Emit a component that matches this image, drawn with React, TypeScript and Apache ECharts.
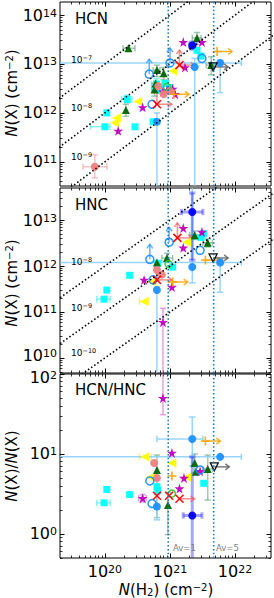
import React, { useEffect, useRef } from 'react';
import * as echarts from 'echarts';

// ---------- axis ranges (real units) ----------
const nh2Range = [2.04e19, 3.57e22];
const hcnRange = [3.2e10, 1.85e14];
const hncRange = [4.7e9, 5.0e13];
const ratioRange = [0.5, 100];

const panelNames = ['HCN', 'HNC', 'HCN/HNC'];
const hcnAbundances = [1e-7, 1e-8, 1e-9];
const hncAbundances = [1e-8, 1e-9, 1e-10];
const hcnAbundanceLabels = ['−7', '−8', '−9'];
const hncAbundanceLabels = ['−8', '−9', '−10'];
const avNH2 = [9.4e20, 4.7e21];
const avLabels = ['Av=1', 'Av=5'];
const xTickExps = [20, 21, 22];
const hcnTickExps = [11, 12, 13, 14];
const hncTickExps = [11, 12, 13];
const hncEdgeTickExps = [10];
const ratioTickExps = [0, 1];
const ratioEdgeTickExps = [2];

// ---------- data: [N(H2), value, N(H2) lo, N(H2) hi, value lo, value hi, limit flags] ----------
type Row = (number | string | null)[];

const cyanHCN: Row[] = [
  [1.0e20, 5.2e11, 6.0e19, 1.2e20, null, null],
  [1.07e20, 1.0e12],
  [2.2e20, 1.9e12, 1.8e20, 2.6e20, 1.6e12, 2.3e12],
  [2.9e20, 5.2e11],
  [5.5e20, 6.6e11],
  [6.2e20, 3.9e12, 5.2e20, 7.5e20, 3.0e12, 5.0e12],
  [5.8e20, 3.2e12],
  [8.5e20, 4.0e12],
  [7.2e20, 2.9e12],
  [1.0e21, 3.3e12],
  [2.6e21, 1.9e13],
  [3.0e21, 1.45e13],
];
const cyanHNC: Row[] = [
  [9.7e19, 1.9e11, 7.5e19, 1.2e20, null, null],
  [1.07e20, 3.0e11],
  [2.4e20, 6.3e11],
  [6.5e20, 1.15e12],
  [1.1e21, 9.5e11],
  [3.3e21, 5.0e12],
  [3.0e21, 4.2e12],
];
const cyanRatio: Row[] = [
  [9.7e19, 2.45, 7.5e19, 1.2e20, null, null],
  [1.07e20, 3.6],
  [2.4e20, 3.1],
  [6.3e20, 3.9],
  [6.5e20, 3.5],
  [3.3e21, 4.3],
];

const yellowHCN: Row[] = [
  [1.5e20, 7.9e11],
  [1.4e20, 6.3e11],
  [3.2e20, 1.7e12],
  [1.1e21, 7.2e12],
];
const yellowHNC: Row[] = [
  [4.0e20, 1.7e11, 3.4e20, 4.6e20, null, null],
  [1.8e21, 3.3e12],
  [5.3e20, 4.5e11],
];
const yellowRatio: Row[] = [
  [4.1e20, 9.2, 3.4e20, 5.2e20, null, null],
  [1.07e21, 7.7],
  [5.0e20, 5.1],
  [1.8e21, 5.1],
];

const greenHCN: Row[] = [
  [2.3e20, 2.1e13, 1.9e20, 2.9e20, null, null],
  [2.1e20, 1.15e12, null, null, 8.5e11, 1.5e12],
  [6.3e20, 7.5e12, 5.5e20, 7.0e20, 5.5e12, 9.5e12],
  [8.0e20, 6.5e12, null, null, 4.8e12, 8.5e12],
  [6.0e20, 4.0e12],
  [5.8e20, 3.0e12, null, null, 2.2e12, 4.0e12],
  [2.6e21, 3.4e13, 2.2e21, 3.0e21, 2.5e13, 4.4e13],
  [4.3e21, 9.5e12, 3.6e21, 5.0e21, 6.0e12, 1.4e13],
];
const greenHNC: Row[] = [
  [9.0e20, 1.5e12, 7.5e20, 1.1e21, 1.2e12, 1.9e12],
  [6.3e20, 1.2e12],
  [2.4e21, 4.7e12, 2.0e21, 2.9e21, 3.8e12, 5.8e12],
  [3.8e21, 3.2e12, 3.2e21, 4.5e21, 2.6e12, 3.9e12],
];
const greenRatio: Row[] = [
  [6.3e20, 6.3, null, null, 1.6, 9.7],
  [2.4e21, 7.7, null, null, 5.8, 10],
  [2.5e21, 6.0],
  [3.8e21, 6.5, 3.2e21, 4.5e21, 2.65, 9.7],
  [9.3e20, 2.3, null, null, 0.98, 3.3],
];

const magentaHCN: Row[] = [
  [1.6e20, 4.3e11],
  [3.8e20, 1.3e12],
  [7.8e20, 2.7e12],
  [9.0e20, 2.9e12],
  [1.1e21, 3.1e12],
  [1.2e21, 2.4e12],
  [1.6e21, 2.8e13],
  [3.1e21, 2.8e13],
  [1.7e21, 8.5e12],
];
const magentaHNC: Row[] = [
  [4.0e20, 5.0e11],
  [7.8e20, 6.0e10, null, null, 1e8, 1.2e11],
  [1.07e21, 3.5e11],
  [1.6e21, 6.7e12],
  [3.1e21, 5.5e12],
  [1.6e21, 2.5e12],
];
const magentaRatio: Row[] = [
  [7.8e20, 50, null, null, 31, 300],
  [1.07e21, 10.3],
  [1.64e21, 5.0],
  [1.4e21, 3.7],
  [3.8e20, 2.8, 3.3e20, 4.3e20, 2.5, 3.1],
  [2.9e21, 6.1],
];

const dodgerHCN: Row[] = [
  [6.3e20, 6.6e11, null, null, 1e8, 1.0e12],
  [2.4e21, 8.7e12, null, null, 1e8, 1.3e13],
  [5.9e21, 1.05e13, 1e18, 1.25e22, 2.6e12, 1.2e13],
];
const dodgerHNC: Row[] = [
  [6.3e20, 3.0e11, null, null, 1e8, 3.5e11],
  [2.2e21, 9.5e11, null, null, 4.3e11, 6e13],
  [5.9e21, 1.2e12, 1e18, 1.25e22, 2.7e11, 1.4e12],
];
const dodgerRatio: Row[] = [
  [2.2e21, 15.4, 6.3e20, 3.2e21, 7.1, 29],
  [5.9e21, 9.2, 1e18, 1.25e22, null, null],
  [6.3e20, 2.2, null, null, 1.5, 3.1],
];

const blueHCN: Row[] = [[2.2e21, 2.4e13, 2.0e21, 2.5e21, 2.0e13, 2.8e13]];
const blueHNC: Row[] = [[2.2e21, 1.5e13, 1.5e21, 3.2e21, 1.35e12, 3.9e13]];
const blueRatio: Row[] = [[2.2e21, 1.7, 1.6e21, 3.1e21, 0.1, 9.2]];

const salmonHCN: Row[] = [
  [7.0e19, 7.9e10, 4.6e19, 1.07e20, 4.7e10, 1.4e11],
  [6.6e20, 3.5e12],
  [8.0e20, 2.4e12],
  [1.0e21, 2.8e12],
];
const salmonHNC: Row[] = [
  [6.3e20, 8.2e11],
  [7.5e20, 6.5e11],
];
const salmonRatio: Row[] = [
  [5.7e20, 7.7],
  [6.3e20, 5.0],
];

const limeHCN: Row[] = [[9.0e20, 3.4e12]];
const limeHNC: Row[] = [[9.5e20, 1.1e12]];
const limeRatio: Row[] = [[1.07e21, 3.2]];

const openHCN: Row[] = [
  [4.8e20, 6.2e12, null, null, null, null, 'u'],
  [5.3e20, 1.5e12],
  [1.0e21, 1.05e13, null, null, null, null, 'u'],
  [3.1e21, 1.3e13],
];
const openHNC: Row[] = [
  [4.9e20, 1.4e12, null, null, null, null, 'u'],
  [9.7e20, 3.3e12, null, null, null, null, 'u'],
  [5.5e20, 5.0e11],
  [2.9e21, 2.2e12],
];
const openRatio: Row[] = [
  [4.9e20, 4.6],
  [5.3e20, 2.4],
  [2.9e21, 6.3],
];

const redHCN: Row[] = [
  [6.3e20, 1.5e12, null, null, null, null, 'ur'],
  [1.4e21, 9.5e12, null, null, null, null, 'ur'],
];
const redHNC: Row[] = [
  [6.3e20, 5.0e11, null, null, null, null, 'ur'],
  [1.3e21, 4.1e12, null, null, null, null, 'ur'],
];
const redRatio: Row[] = [
  [6.3e20, 3.0],
  [9.7e20, 3.0],
  [1.4e21, 2.75, null, null, null, null, 'r'],
];

const orangeHCN: Row[] = [
  [5.3e21, 1.8e13, null, null, null, null, 'r'],
  [1.15e21, 2.4e12, null, null, null, null, 'r'],
];
const orangeHNC: Row[] = [
  [1.1e21, 4.5e11, null, null, null, null, 'r'],
  [3.5e21, 1.35e12, null, null, null, null, 'r'],
];
const orangeRatio: Row[] = [
  [3.5e21, 14.5, null, null, null, null, 'r'],
  [1.07e21, 5.3],
];

const blackHCN: Row[] = [[4.6e21, 8.7e12, null, null, null, null, 'r']];
const blackHNC: Row[] = [[4.6e21, 1.5e12, null, null, null, null, 'r']];
const blackRatio: Row[] = [[4.8e21, 6.9, null, null, null, null, 'r']];

// ---------- styles ----------
const FONT = 'DejaVu Sans';
const STAR = 'path://M50,0L61.2,34.5L97.6,34.5L68.2,55.9L79.4,90.5L50,69.1L20.6,90.5L31.8,55.9L2.4,34.5L38.8,34.5Z';
const XMARK = 'path://M0,0L10,10M10,0L0,10';
const PLUS = 'path://M5,0L5,10M0,5L10,5';

const groups = [
  { rows: [cyanHCN, cyanHNC, cyanRatio], symbol: 'rect', size: 7, fill: '#00FFFF', border: 'transparent', bw: 0, rot: 0, err: 'rgba(0,225,225,0.45)', ew: 1.5, arrow: '#00cccc' },
  { rows: [yellowHCN, yellowHNC, yellowRatio], symbol: 'triangle', size: 9, fill: '#FFFF00', border: 'transparent', bw: 0, rot: 90, err: 'rgba(225,225,0,0.5)', ew: 1.5, arrow: '#dddd00' },
  { rows: [greenHCN, greenHNC, greenRatio], symbol: 'triangle', size: 8, fill: '#006400', border: 'transparent', bw: 0, rot: 0, err: 'rgba(46,139,87,0.45)', ew: 1.5, arrow: '#2e8b57' },
  { rows: [magentaHCN, magentaHNC, magentaRatio], symbol: STAR, size: 10, fill: '#BF00BF', border: 'transparent', bw: 0, rot: 0, err: 'rgba(218,112,214,0.65)', ew: 1.5, arrow: '#da70d6' },
  { rows: [dodgerHCN, dodgerHNC, dodgerRatio], symbol: 'circle', size: 8, fill: '#1E90FF', border: 'transparent', bw: 0, rot: 0, err: 'rgba(135,206,250,0.85)', ew: 1.5, arrow: '#87cefa' },
  { rows: [blueHCN, blueHNC, blueRatio], symbol: 'circle', size: 8, fill: '#0000FF', border: 'transparent', bw: 0, rot: 0, err: 'rgba(0,0,255,0.35)', ew: 3, arrow: '#0000ff' },
  { rows: [salmonHCN, salmonHNC, salmonRatio], symbol: 'circle', size: 8, fill: '#F08080', border: 'transparent', bw: 0, rot: 0, err: 'rgba(240,128,128,0.45)', ew: 1.5, arrow: '#f08080' },
  { rows: [limeHCN, limeHNC, limeRatio], symbol: 'circle', size: 7, fill: 'transparent', border: '#32CD32', bw: 1.5, rot: 0, err: 'rgba(50,205,50,0.45)', ew: 1.5, arrow: '#32cd32' },
  { rows: [openHCN, openHNC, openRatio], symbol: 'circle', size: 8, fill: 'transparent', border: '#1E90FF', bw: 1.5, rot: 0, err: 'rgba(30,144,255,0.5)', ew: 1.5, arrow: 'rgba(30,144,255,0.7)' },
  { rows: [redHCN, redHNC, redRatio], symbol: XMARK, size: 8, fill: 'transparent', border: '#FF0000', bw: 1.6, rot: 0, err: 'rgba(255,70,70,0.5)', ew: 1.5, arrow: 'rgba(255,80,80,0.65)' },
  { rows: [orangeHCN, orangeHNC, orangeRatio], symbol: PLUS, size: 9, fill: 'transparent', border: '#FFA500', bw: 1.6, rot: 0, err: 'rgba(255,165,0,0.5)', ew: 1.5, arrow: 'rgba(255,165,0,0.85)' },
  { rows: [blackHCN, blackHNC, blackRatio], symbol: 'triangle', size: 8, fill: 'transparent', border: '#000000', bw: 1.3, rot: 180, err: 'rgba(0,0,0,0.4)', ew: 1.5, arrow: 'rgba(100,100,100,0.85)' },
];

const gridDefs = [
  { top: 2, height: 184 },
  { top: 188, height: 185 },
  { top: 374, height: 184 },
];
const GRID_LEFT = 60;
const GRID_WIDTH = 211;

const lg = Math.log10;

function majorsIn(lo: number, hi: number) {
  const out: number[] = [];
  for (let d = Math.ceil(lo - 1e-9); d <= Math.floor(hi + 1e-9); d++) out.push(d);
  return out;
}
function minorsIn(lo: number, hi: number) {
  const out: number[] = [];
  for (let d = Math.floor(lo) - 1; d <= Math.ceil(hi); d++) {
    for (let k = 2; k <= 9; k++) {
      const v = d + Math.log10(k);
      if (v > lo && v < hi) out.push(v);
    }
  }
  return out;
}

const tickRich = {
  b: { fontSize: 16, fontFamily: FONT, color: '#000', lineHeight: 15 },
  s: { fontSize: 11, fontFamily: FONT, color: '#000', lineHeight: 5, verticalAlign: 'top' },
};
const tickFmt = (v: number) => `{b|10}{s|${Math.round(v)}}`;

function makeAxis(
  dim: 'x' | 'y', g: number, lo: number, hi: number, position: string, major: boolean,
  labels: number[] | null, labelPadding?: number[],
) {
  const ax: any = {
    type: 'value',
    gridIndex: g,
    min: lo,
    max: hi,
    position,
    axisLine: { show: false, onZero: false },
    splitLine: { show: false },
    axisTick: {
      show: true,
      inside: true,
      length: major ? 4.5 : 2.5,
      customValues: major ? majorsIn(lo, hi) : minorsIn(lo, hi),
      lineStyle: { color: '#000', width: major ? 1 : 0.8 },
    },
    axisLabel: labels
      ? {
          show: true, customValues: labels, formatter: tickFmt, rich: tickRich,
          margin: dim === 'x' ? 6 : 3, padding: labelPadding || 0,
        }
      : { show: false },
  };
  return ax;
}

function errRender(color: string, width: number) {
  return (params: any, api: any) => {
    const x = api.value(0), y = api.value(1);
    const xl = api.value(2), xh = api.value(3), yl = api.value(4), yh = api.value(5);
    const st = { stroke: color, lineWidth: width, fill: 'none' };
    const cap = 3.2;
    const ch: any[] = [];
    const seg = (x1: number, y1: number, x2: number, y2: number) =>
      ch.push({ type: 'line', shape: { x1, y1, x2, y2 }, style: st });
    if (xh - xl > 1e-6) {
      const a = api.coord([xl, y]);
      const b = api.coord([xh, y]);
      seg(a[0], a[1], b[0], b[1]);
      seg(a[0], a[1] - cap, a[0], a[1] + cap);
      seg(b[0], b[1] - cap, b[0], b[1] + cap);
    }
    if (yh - yl > 1e-6) {
      const a = api.coord([x, yl]);
      const b = api.coord([x, yh]);
      seg(a[0], a[1], b[0], b[1]);
      seg(a[0] - cap, a[1], a[0] + cap, a[1]);
      seg(b[0] - cap, b[1], b[0] + cap, b[1]);
    }
    return { type: 'group', children: ch };
  };
}

function arrowRender(color: string) {
  const len = 15;
  const head = 4;
  return (params: any, api: any) => {
    const c = api.coord([api.value(0), api.value(1)]);
    const st = { stroke: color, lineWidth: 1.5, fill: 'none' };
    const ch: any[] = [];
    if (api.value(2) > 0) {
      const tx = c[0], ty = c[1] - len;
      ch.push({ type: 'line', shape: { x1: c[0], y1: c[1], x2: tx, y2: ty }, style: st });
      ch.push({ type: 'polyline', shape: { points: [[tx - 3, ty + head], [tx, ty], [tx + 3, ty + head]] }, style: st });
    }
    if (api.value(3) > 0) {
      const tx = c[0] + len, ty = c[1];
      ch.push({ type: 'line', shape: { x1: c[0], y1: c[1], x2: tx, y2: ty }, style: st });
      ch.push({ type: 'polyline', shape: { points: [[tx - head, ty - 3], [tx, ty], [tx - head, ty + 3]] }, style: st });
    }
    return { type: 'group', children: ch };
  };
}

function buildOption() {
  const xLo = lg(nh2Range[0]);
  const xHi = lg(nh2Range[1]);
  const yRanges = [hcnRange, hncRange, ratioRange];
  const yLabelSets = [hcnTickExps, hncTickExps, ratioTickExps];
  const yEdgeLabelSets = [null, hncEdgeTickExps, ratioEdgeTickExps];
  const yEdgePadding = [[0], [0, 0, 4, 0], [7, 0, 0, 0]];

  const grid: any[] = [];
  const xAxis: any[] = [];
  const yAxis: any[] = [];
  const series: any[] = [];

  gridDefs.forEach((gd, g) => {
    grid.push({
      left: GRID_LEFT, width: GRID_WIDTH, top: gd.top, height: gd.height,
      show: true, borderColor: '#000', borderWidth: 1, backgroundColor: 'transparent',
    });
    const yLo = lg(yRanges[g][0]);
    const yHi = lg(yRanges[g][1]);
    xAxis.push(makeAxis('x', g, xLo, xHi, 'bottom', true, g === 2 ? xTickExps : null));
    xAxis.push(makeAxis('x', g, xLo, xHi, 'bottom', false, null));
    xAxis.push(makeAxis('x', g, xLo, xHi, 'top', true, null));
    xAxis.push(makeAxis('x', g, xLo, xHi, 'top', false, null));
    yAxis.push(makeAxis('y', g, yLo, yHi, 'left', true, yLabelSets[g]));
    yAxis.push(makeAxis('y', g, yLo, yHi, 'left', false, yEdgeLabelSets[g], yEdgePadding[g]));
    yAxis.push(makeAxis('y', g, yLo, yHi, 'right', true, null));
    yAxis.push(makeAxis('y', g, yLo, yHi, 'right', false, null));

    const xi = g * 4;
    const yi = g * 4;

    groups.forEach((gr) => {
      const rows = gr.rows[g];
      const pts = rows.map((r) => [lg(r[0] as number), lg(r[1] as number)]);
      const errs = rows
        .filter((r) => r[2] != null || r[4] != null)
        .map((r) => {
          const x = r[0] as number, y = r[1] as number;
          return [
            lg(x), lg(y),
            lg((r[2] as number) ?? x), lg((r[3] as number) ?? x),
            lg((r[4] as number) ?? y), lg((r[5] as number) ?? y),
          ];
        });
      const arrows = rows
        .filter((r) => typeof r[6] === 'string' && (r[6] as string).length > 0)
        .map((r) => [
          lg(r[0] as number), lg(r[1] as number),
          (r[6] as string).includes('u') ? 1 : 0,
          (r[6] as string).includes('r') ? 1 : 0,
        ]);
      if (errs.length) {
        series.push({
          type: 'custom', xAxisIndex: xi, yAxisIndex: yi, clip: true, z: 2, silent: true,
          renderItem: errRender(gr.err, gr.ew), data: errs, encode: { x: 0, y: 1 },
        });
      }
      if (arrows.length) {
        series.push({
          type: 'custom', xAxisIndex: xi, yAxisIndex: yi, clip: true, z: 3, silent: true,
          renderItem: arrowRender(gr.arrow), data: arrows, encode: { x: 0, y: 1 },
        });
      }
      series.push({
        type: 'scatter', xAxisIndex: xi, yAxisIndex: yi, z: 4, silent: true,
        symbol: gr.symbol, symbolSize: gr.size, symbolRotate: gr.rot,
        itemStyle: { color: gr.fill, borderColor: gr.border, borderWidth: gr.bw, opacity: 0.95 },
        data: pts,
      });
    });

    const abund = g === 0 ? hcnAbundances : g === 1 ? hncAbundances : [];
    abund.forEach((a) => {
      series.push({
        type: 'line', xAxisIndex: xi, yAxisIndex: yi, z: 5, silent: true, symbol: 'none',
        lineStyle: { color: '#000', width: 1.6, type: [1.5, 2.3] },
        data: [[18.5, 18.5 + lg(a)], [23.5, 23.5 + lg(a)]],
      });
    });

    avNH2.forEach((v) => {
      series.push({
        type: 'line', xAxisIndex: xi, yAxisIndex: yi, z: 5, silent: true, symbol: 'none',
        lineStyle: { color: '#1f77b4', width: 1.6, type: [1.5, 2.3] },
        data: [[lg(v), yLo], [lg(v), yHi]],
      });
    });
  });

  const smallRich = {
    b: { fontSize: 9, fontFamily: FONT, color: '#000', lineHeight: 12 },
    s: { fontSize: 6.5, fontFamily: FONT, color: '#000', lineHeight: 6, verticalAlign: 'top' },
  };
  const titleRich = {
    i: { fontSize: 15, fontFamily: FONT, fontStyle: 'italic', color: '#000' },
    n: { fontSize: 15, fontFamily: FONT, color: '#000' },
    s: { fontSize: 10, fontFamily: FONT, color: '#000', verticalAlign: 'top', lineHeight: 8 },
    d: { fontSize: 10, fontFamily: FONT, color: '#000', verticalAlign: 'bottom', lineHeight: 8 },
  };

  const graphic: any[] = [];
  const panelLabelY = [19, 205, 390];
  panelNames.forEach((t, i) => {
    graphic.push({
      type: 'text', x: 75, y: panelLabelY[i], z: 10,
      style: { text: t, fontSize: 15, fontFamily: FONT, fill: '#000', align: 'left', verticalAlign: 'middle' },
    });
  });
  const abLabY1 = [60, 108, 157];
  const abLabY2 = [262, 308, 353];
  hcnAbundanceLabels.forEach((t, i) => {
    graphic.push({
      type: 'text', x: 71, y: abLabY1[i], z: 10,
      style: { text: `{b|10}{s|${t}}`, rich: smallRich, align: 'left', verticalAlign: 'middle' },
    });
  });
  hncAbundanceLabels.forEach((t, i) => {
    graphic.push({
      type: 'text', x: 71, y: abLabY2[i], z: 10,
      style: { text: `{b|10}{s|${t}}`, rich: smallRich, align: 'left', verticalAlign: 'middle' },
    });
  });
  const avX = [173, 216];
  avLabels.forEach((t, i) => {
    graphic.push({
      type: 'text', x: avX[i], y: 548, z: 10,
      style: { text: t, fontSize: 8.5, fontFamily: FONT, fill: '#808080', align: 'left', verticalAlign: 'middle' },
    });
  });
  const yTitles = [
    { y: 93, text: '{i|N}{n|(X) (cm}{s|−2}{n|)}' },
    { y: 283, text: '{i|N}{n|(X) (cm}{s|−2}{n|)}' },
    { y: 466, text: '{i|N}{n|(X)/}{i|N}{n|(X)}' },
  ];
  yTitles.forEach((t) => {
    graphic.push({
      type: 'text', x: 12, y: t.y, rotation: Math.PI / 2, z: 10,
      style: { text: t.text, rich: titleRich, align: 'center', verticalAlign: 'middle' },
    });
  });
  graphic.push({
    type: 'text', x: 166, y: 590, z: 10,
    style: { text: '{i|N}{n|(H}{d|2}{n|) (cm}{s|−2}{n|)}', rich: titleRich, align: 'center', verticalAlign: 'middle' },
  });

  return {
    animation: false,
    backgroundColor: '#fff',
    grid,
    xAxis,
    yAxis,
    series,
    graphic,
  };
}

export default function App() {
  const ref = useRef<HTMLDivElement>(null);
  useEffect(() => {
    const chart = echarts.init(ref.current as HTMLDivElement, null, { renderer: 'svg' });
    chart.setOption(buildOption() as any);
    return () => chart.dispose();
  }, []);
  return (
    <div
      ref={ref}
      style={{ position: 'fixed', left: 0, top: 0, width: 274, height: 598, background: '#fff' }}
    />
  );
}
